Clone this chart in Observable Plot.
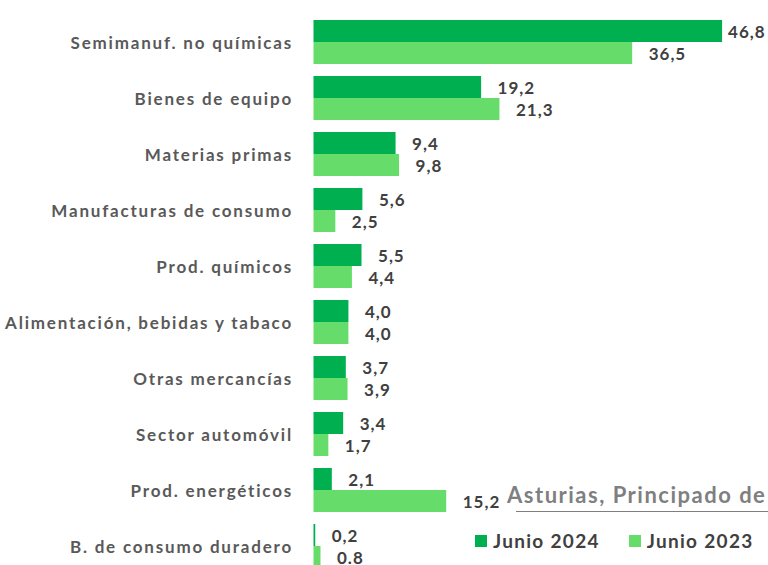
<!DOCTYPE html>
<html><head><meta charset="utf-8">
<script src="https://cdn.jsdelivr.net/npm/d3@7"></script>
<script src="https://cdn.jsdelivr.net/npm/@observablehq/plot@0.6"></script>
<style>
html,body{margin:0;padding:0;background:#fff;}
body{width:768px;height:565px;overflow:hidden;position:relative;font-family:Lato,"Open Sans",sans-serif;}
#chart{position:absolute;left:0;top:0;}
#title{position:absolute;left:507px;top:481px;font-size:22px;letter-spacing:1.5px;font-weight:bold;color:#7f7f7f;white-space:nowrap;}
#uline{position:absolute;left:516px;top:511px;width:252px;height:0;border-top:1.5px solid #7f7f7f;}
#legend{position:absolute;left:475px;top:529px;font-size:19px;letter-spacing:1.3px;font-weight:bold;color:#404040;white-space:nowrap;display:flex;align-items:center;}
#legend .sw{display:inline-block;width:12px;height:12px;margin-right:6px;}
#legend .item{display:flex;align-items:center;margin-right:29px;}
.ylab text{letter-spacing:1.8px;}
.vlab text{letter-spacing:1px;}
</style></head><body>
<div id="chart"></div>
<div id="title">Asturias, Principado de</div>
<div id="uline"></div>
<div id="legend"></div>
<script>
const categories = ["Semimanuf. no químicas","Bienes de equipo","Materias primas","Manufacturas de consumo","Prod. químicos","Alimentación, bebidas y tabaco","Otras mercancías","Sector automóvil","Prod. energéticos","B. de consumo duradero"];
const junio2024 = [46.8,19.2,9.4,5.6,5.5,4.0,3.7,3.4,2.1,0.2];
const junio2023 = [36.5,21.3,9.8,2.5,4.4,4.0,3.9,1.7,15.2,0.8];
const labels2024 = ["46,8","19,2","9,4","5,6","5,5","4,0","3,7","3,4","2,1","0,2"];
const labels2023 = ["36,5","21,3","9,8","2,5","4,4","4,0","3,9","1,7","15,2","0.8"];
const seriesNames = ["Junio 2024","Junio 2023"];
const colors = ["#00B050","#66DD6A"];

const rows24 = categories.map((c,i)=>({cat:c, value:junio2024[i], label:labels2024[i]}));
const rows23 = categories.map((c,i)=>({cat:c, value:junio2023[i], label:labels2023[i]}));

const W = 768, H = 565;
const yRange = [14, 574];
const step = (yRange[1]-yRange[0])/categories.length;
const padIn = 12/56;
const bw = step*(1-padIn);
const xMax = 52.06;

const chart = Plot.plot({
  width: W, height: H,
  marginLeft: 313.5, marginRight: 0, marginTop: 0, marginBottom: 0,
  style: {fontFamily: "Lato, 'Open Sans', sans-serif", overflow: "hidden"},
  x: {domain: [0, xMax], axis: null},
  y: {domain: categories, range: yRange, paddingInner: padIn, paddingOuter: padIn/2, axis: null},
  marks: [
    Plot.barX(rows24, {x: "value", y: "cat", fill: colors[0], insetBottom: bw/2}),
    Plot.barX(rows23, {x: "value", y: "cat", fill: colors[1], insetTop: bw/2}),
    Plot.ruleX([0], {stroke: "#d9d9d9", strokeWidth: 1.5, y1: categories[0], y2: categories[categories.length-1], insetTop: -28, insetBottom: -40}),
    Plot.text(rows24, {x: d => Math.min(d.value, 45.6), y: "cat", text: "label", dx: 16, dy: -bw/4 + 1, textAnchor: "start", fontWeight: "bold", fontSize: 17, fill: "#404040", className: "vlab"}),
    Plot.text(rows23, {x: d => Math.min(d.value, 45.6), y: "cat", text: "label", dx: 16, dy: bw/4 + 1, textAnchor: "start", fontWeight: "bold", fontSize: 17, fill: "#404040", className: "vlab"}),
    Plot.axisY({tickSize: 0, tickPadding: 21, className: "ylab", fill: "#595959", fontWeight: "bold", fontSize: 17, dy: 1})
  ]
});
document.getElementById("chart").appendChild(chart);

const lg = document.getElementById("legend");
seriesNames.forEach((s,i)=>{
  const it = document.createElement("span"); it.className = "item";
  const sw = document.createElement("span"); sw.className = "sw"; sw.style.background = colors[i];
  it.appendChild(sw); it.appendChild(document.createTextNode(s));
  lg.appendChild(it);
});
</script>
</body></html>
